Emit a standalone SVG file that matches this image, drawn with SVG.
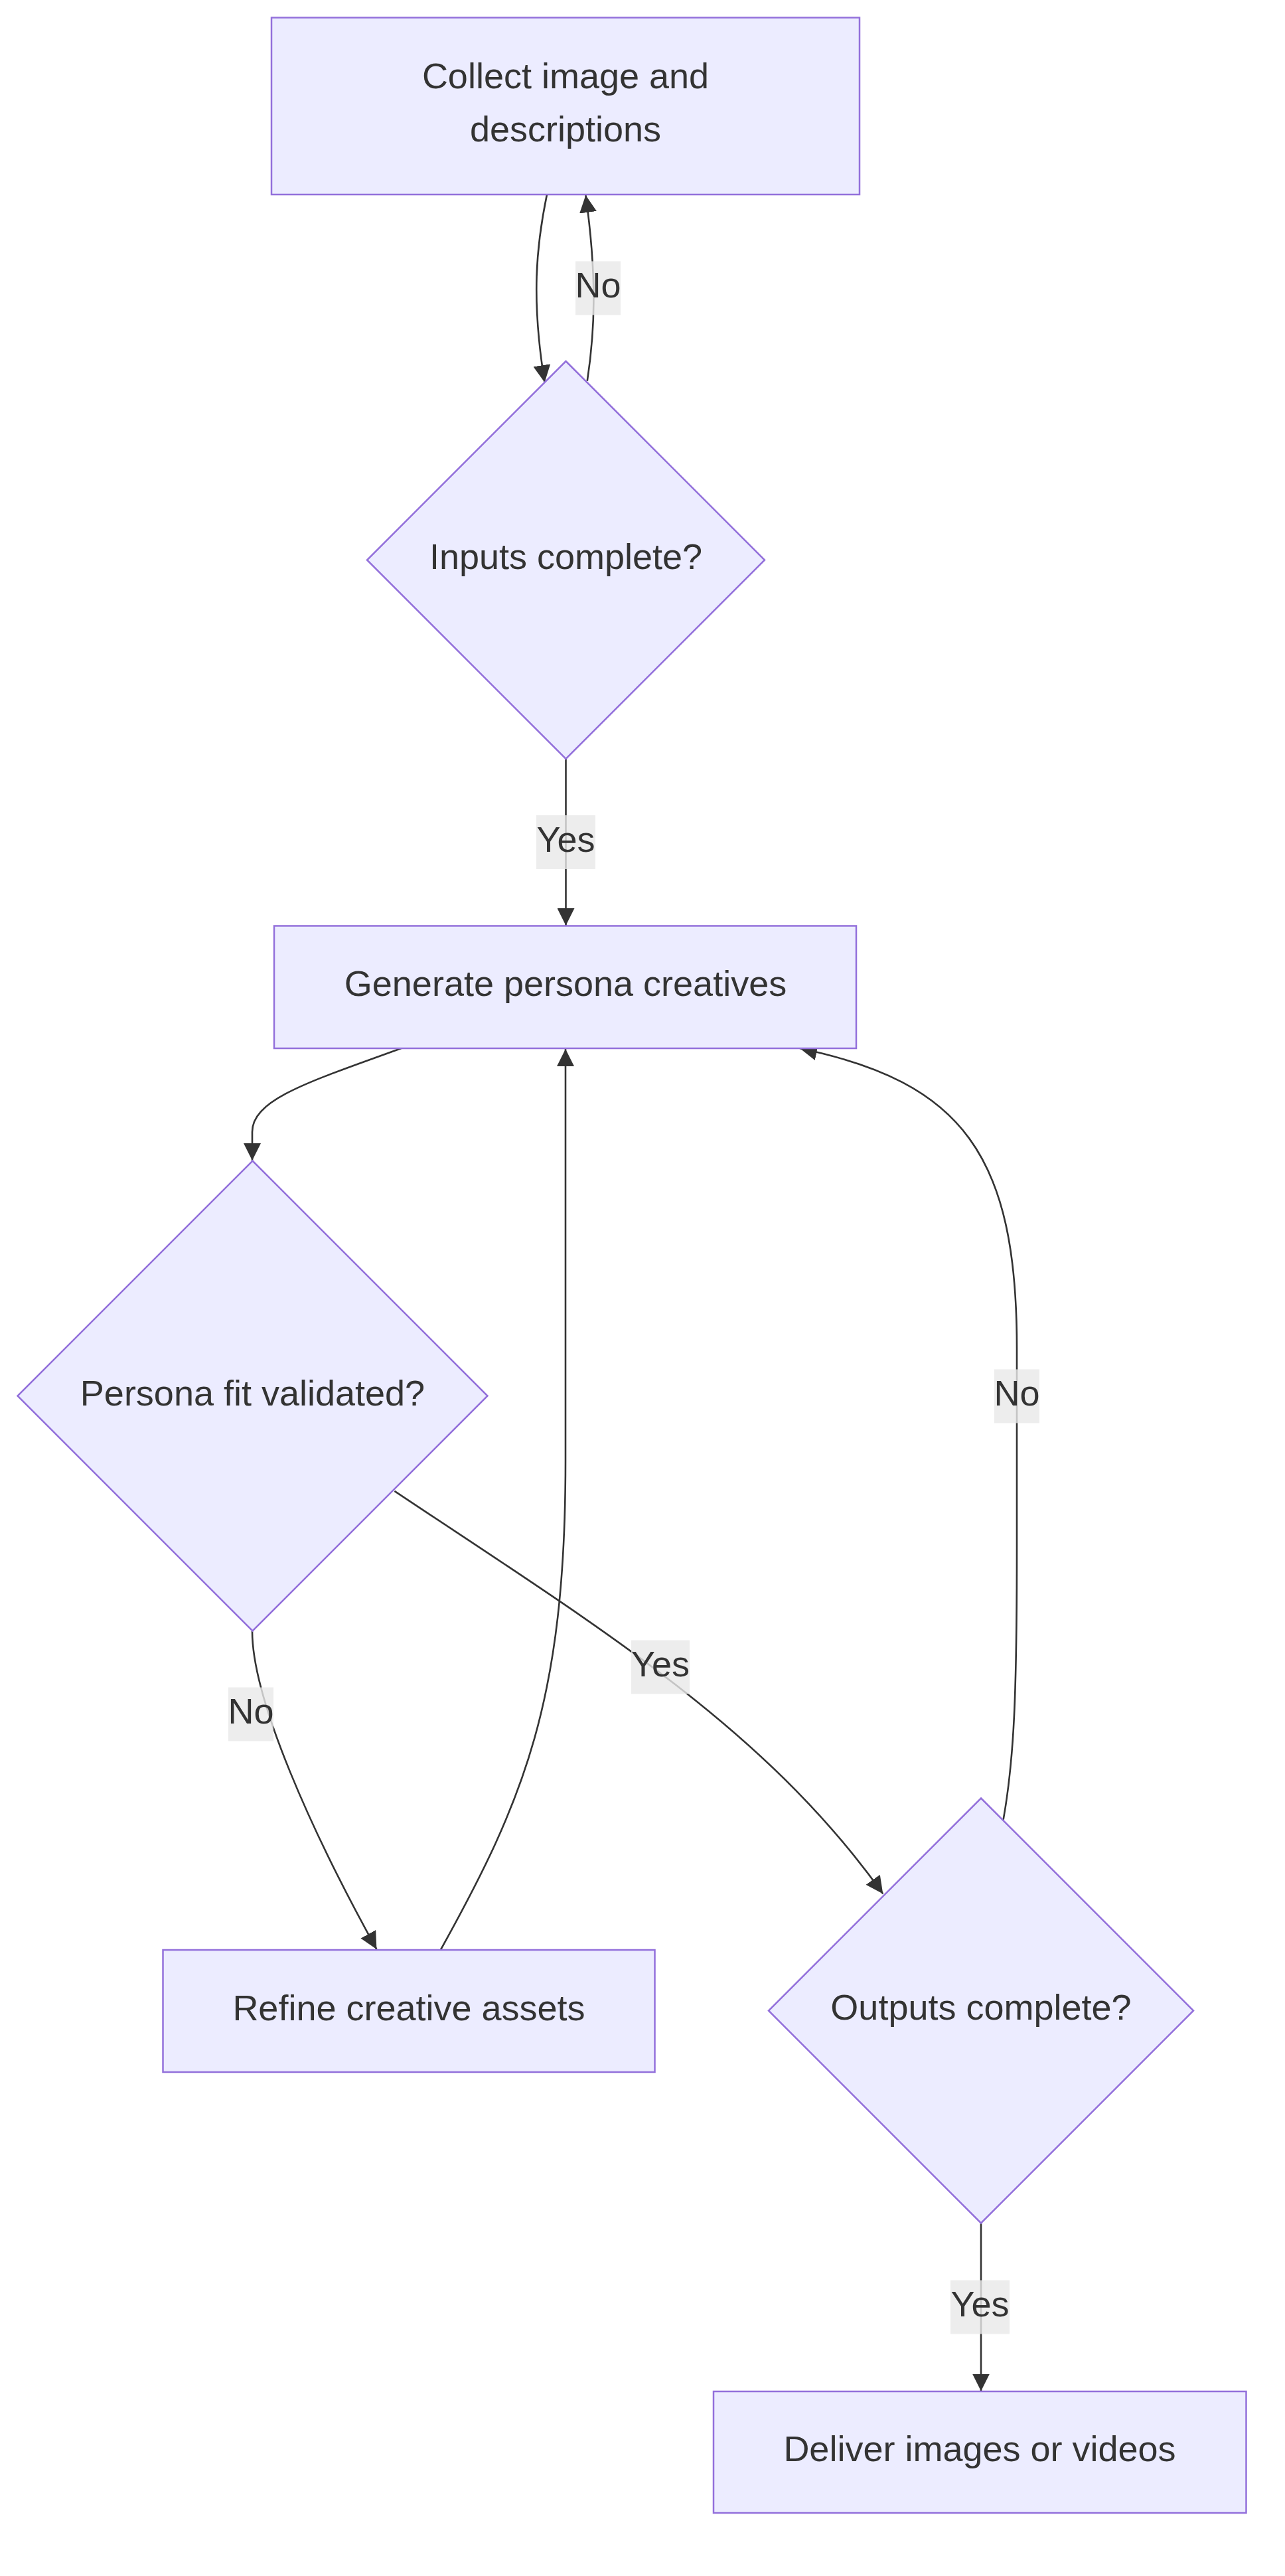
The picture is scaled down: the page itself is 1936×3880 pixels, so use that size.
<svg xmlns="http://www.w3.org/2000/svg" width="1936" height="3880" viewBox="0 0 1936 3880">
<defs>
<style>
.node{fill:#ECECFF;stroke:#9370DB;stroke-width:2.5}
.lbl{font-family:"Liberation Sans",Arial,sans-serif;font-size:54px;fill:#333333;text-anchor:middle}
.edge{fill:none;stroke:#333333;stroke-width:2.6}
.elbg{fill:#e8e8e8;fill-opacity:0.8}
</style>
<marker id="arrow" viewBox="0 0 10 10" refX="10" refY="5" markerUnits="userSpaceOnUse" markerWidth="26" markerHeight="26" orient="auto">
<path d="M0,0 L10,5 L0,10 z" fill="#333333"/>
</marker>
</defs>
<rect width="1936" height="3880" fill="#ffffff"/>
<g id="edges">
<path class="edge" d="M824,293 C808,370 800,450 820.6,576" marker-end="url(#arrow)"/>
<path class="edge" d="M884.8,573.7 C896,500 900,420 882.4,294" marker-end="url(#arrow)"/>
<path class="edge" d="M852.5,1143 L852.5,1394" marker-end="url(#arrow)"/>
<path class="edge" d="M604.5,1579 C470,1628 380,1655 380,1705 L380,1748" marker-end="url(#arrow)"/>
<path class="edge" d="M380,2457 C380,2560 470,2760 567.4,2936" marker-end="url(#arrow)"/>
<path class="edge" d="M663.8,2937 C790,2710 852,2560 852,2200 L852,1580" marker-end="url(#arrow)"/>
<path class="edge" d="M594.4,2245.8 C900,2450 1150,2600 1330.3,2852.4" marker-end="url(#arrow)"/>
<path class="edge" d="M1511.6,2741 C1528,2650 1532,2550 1532,2330 L1532,2030 C1532,1740 1450,1630 1205,1579" marker-end="url(#arrow)"/>
<path class="edge" d="M1478,3348.5 L1478,3601.5" marker-end="url(#arrow)"/>
<g id="edge-labels">
<rect class="elbg" x="867" y="393.5" width="68" height="81"/>
<text class="lbl" x="901" y="447.5">No</text>
<rect class="elbg" x="808" y="1228" width="89" height="81"/>
<text class="lbl" x="852.5" y="1283">Yes</text>
<rect class="elbg" x="344" y="2541.5" width="68" height="81"/>
<text class="lbl" x="378" y="2596">No</text>
<rect class="elbg" x="951" y="2470.5" width="88" height="81"/>
<text class="lbl" x="995" y="2524.5">Yes</text>
<rect class="elbg" x="1498" y="2062.5" width="68" height="81"/>
<text class="lbl" x="1532" y="2117">No</text>
<rect class="elbg" x="1432" y="3434.5" width="89" height="81"/>
<text class="lbl" x="1476.5" y="3489">Yes</text>
</g>
</g>
<g id="collect">
<rect class="node" x="409" y="26.5" width="886" height="266.5"/>
<text class="lbl" x="852" y="133">Collect image and</text>
<text class="lbl" x="852" y="212.5">descriptions</text>
</g>
<g id="inputs">
<polygon class="node" points="852.5,544 1152,843.5 852.5,1143 553,843.5"/>
<text class="lbl" x="852.5" y="857">Inputs complete?</text>
</g>
<g id="generate">
<rect class="node" x="413" y="1394.5" width="877" height="184.5"/>
<text class="lbl" x="852" y="1500">Generate persona creatives</text>
</g>
<g id="persona">
<polygon class="node" points="380.5,1748.5 734.5,2102.5 380.5,2456.5 26.5,2102.5"/>
<text class="lbl" x="380.5" y="2116.5">Persona fit validated?</text>
</g>
<g id="refine">
<rect class="node" x="245.5" y="2937" width="741" height="184"/>
<text class="lbl" x="616" y="3043">Refine creative assets</text>
</g>
<g id="outputs">
<polygon class="node" points="1478,2708.5 1798,3028.5 1478,3348.5 1158,3028.5"/>
<text class="lbl" x="1478" y="3042">Outputs complete?</text>
</g>
<g id="deliver">
<rect class="node" x="1075" y="3602" width="802.5" height="183"/>
<text class="lbl" x="1476" y="3707">Deliver images or videos</text>
</g>
</svg>
